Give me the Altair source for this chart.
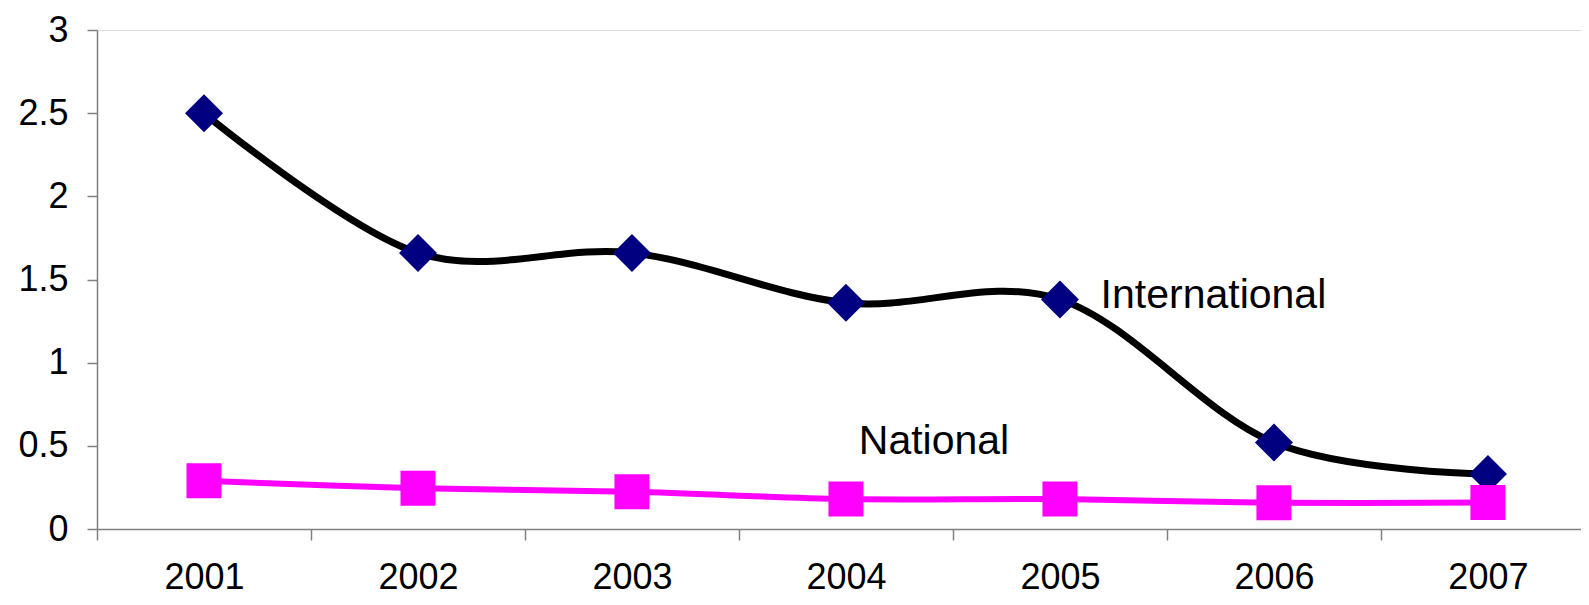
import altair as alt
import pandas as pd

years = [2001, 2002, 2003, 2004, 2005, 2006, 2007]
international = [2.5, 1.66, 1.66, 1.36, 1.38, 0.52, 0.33]
national = [0.29, 0.245, 0.224, 0.18, 0.18, 0.158, 0.159]

label_text = ["International", "National"]
label_x = [2005.19, 2004.06]
label_y = [1.40, 0.523]

y_ticks = [0, 0.5, 1, 1.5, 2, 2.5, 3]
x_bounds = [y - 0.5 for y in years] + [years[-1] + 0.5]

df_int = pd.DataFrame({"year": years, "value": international})
df_nat = pd.DataFrame({"year": years, "value": national})
df_lab = pd.DataFrame({"text": label_text, "x": label_x, "y": label_y})

FONT = "Liberation Sans"
AXIS_GREY = "#808080"

x_scale = alt.Scale(domain=[2000.5, 2007.435], nice=False, zero=False)
y_scale = alt.Scale(domain=[0, 3], nice=False, zero=True)

x_axis = alt.Axis(
    values=sorted(x_bounds + years),
    labelExpr="datum.value % 1 == 0 ? datum.value + '' : ''",
    tickOpacity={"condition": {"test": "datum.value % 1 == 0", "value": 0}, "value": 1},
    labelOverlap=False,
    labelFlush=False,
    grid=False,
    title=None,
    domainColor=AXIS_GREY,
    tickColor=AXIS_GREY,
    domainWidth=1.5,
    tickWidth=1.5,
    tickSize=11,
    labelPadding=20,
    labelFont=FONT,
    labelFontSize=36,
    labelColor="black",
)

y_axis = alt.Axis(
    values=y_ticks,
    labelExpr="datum.value + ''",
    grid=False,
    title=None,
    domainColor=AXIS_GREY,
    tickColor=AXIS_GREY,
    domainWidth=1.5,
    tickWidth=1.5,
    tickSize=10,
    labelPadding=19,
    labelFont=FONT,
    labelFontSize=36,
    labelColor="black",
    labelFlush=False,
    labelOverlap=False,
)

X = alt.X("year:Q", scale=x_scale, axis=x_axis)
Y = alt.Y("value:Q", scale=y_scale, axis=y_axis)

int_line = alt.Chart(df_int).mark_line(
    color="black", strokeWidth=7, interpolate="cardinal"
).encode(x=X, y=Y)

int_pts = alt.Chart(df_int).mark_point(
    shape="diamond", size=1444, filled=True, fill="#000080", opacity=1, strokeWidth=0
).encode(x="year:Q", y="value:Q")

nat_line = alt.Chart(df_nat).mark_line(
    color="#FF00FF", strokeWidth=6, interpolate="cardinal"
).encode(x="year:Q", y="value:Q")

nat_pts = alt.Chart(df_nat).mark_point(
    shape="square", size=1225, filled=True, fill="#FF00FF", opacity=1, strokeWidth=0
).encode(x="year:Q", y="value:Q")

labels = alt.Chart(df_lab).mark_text(
    align="left", baseline="middle", font=FONT, fontSize=41, color="black"
).encode(x="x:Q", y="y:Q", text="text:N")

chart = alt.layer(int_line, int_pts, nat_line, nat_pts, labels).properties(
    width=1484,
    height=499,
    autosize=alt.AutoSizeParams(type="none"),
    padding={"left": 89, "top": 22, "right": 0, "bottom": 68},
).configure_view(stroke=None).configure(background="white")

chart.save("out.html", embed_options={"renderer": "svg", "actions": False})
